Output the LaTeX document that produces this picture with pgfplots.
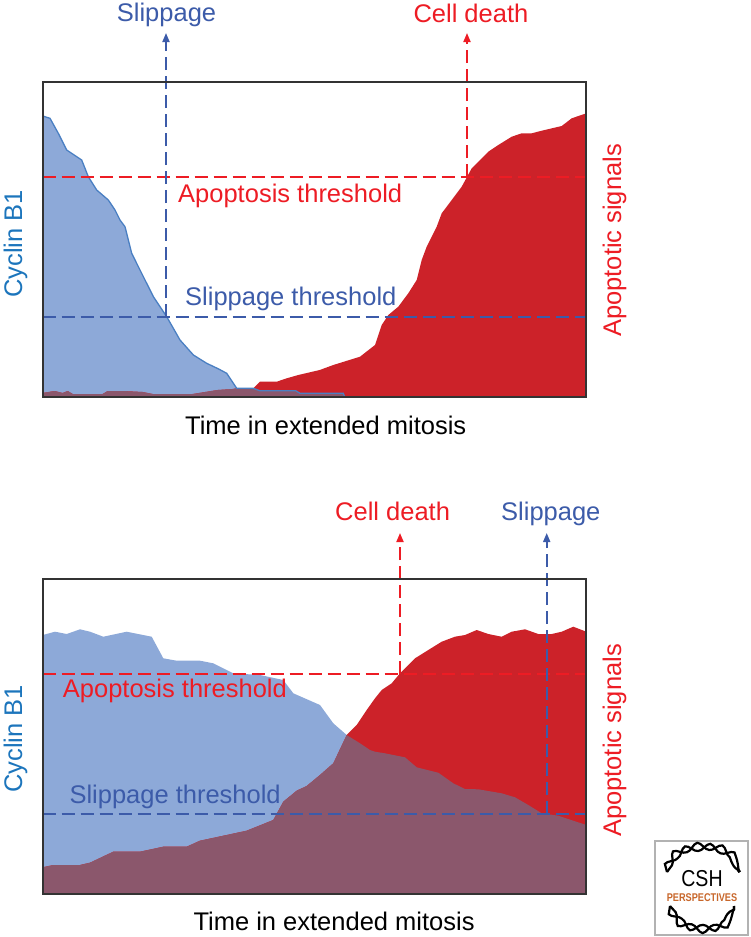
\documentclass[border=0pt]{standalone}
\usepackage{pgfplots}
\pgfplotsset{compat=1.18}
\usepackage{fontspec}
\setmainfont{Liberation Sans}
\usetikzlibrary{arrows.meta,decorations.pathmorphing}
\definecolor{bluefill}{HTML}{8DA9D8}
\definecolor{blueline}{HTML}{4A7FC2}
\definecolor{redfill}{HTML}{CC2229}
\definecolor{maroon}{HTML}{8B576C}
\definecolor{redtxt}{HTML}{ED1C24}
\definecolor{bluetxt}{HTML}{3C5BA9}
\definecolor{cyclinblue}{HTML}{1C75BC}
\definecolor{framegray}{HTML}{333333}
\definecolor{cshorange}{HTML}{C8662A}

% Top panel
\pgfplotstableread{
x y
0 281
7.3 278.7
15.6 263.7
24 247
39 237
45.6 220.3
54 207
65.6 197
72.3 187
77.3 177
82.3 170.3
89 143.7
97.3 127
110.7 100.3
124 80.3
137.3 57
150.7 42
164 33.7
176 28
184 23.7
194 8.7
210.6 8.7
217 6.3
253 6.3
257.3 3.7
300.6 3.7
302 0
}\topblue
\pgfplotstableread{
x y
0 4
12 6
20 4
25 6
30 3
45 3
60 3
65 6
80 6
100 5
110 3
150 3
175 7
190 8
194 8.7
207 8.7
211 9
217.3 15.3
234 15.3
244 18.7
255.6 22
277 27
290.6 32
317.3 40.3
332.3 52
339 72
345.6 82
355.6 90.3
365.6 103.7
374 117
379 137
384 150.3
394 170.3
399 183.7
409 197
419 210.3
429 228.7
445.6 245.3
455.6 252
469 260.3
479 263.7
489 263.7
499 266.3
519 271
529 278.7
543.6 283.7
}\topred
\pgfplotstableread{
x y
0 4
12 6
20 4
25 6
30 3
45 3
60 3
65 6
80 6
100 5
110 3
150 3
175 7
190 8
194 8.7
210.6 8.7
217 6.3
253 6.3
257.3 3.7
300.6 3.7
302 0
543.6 0
}\topmaroon

% Bottom panel
\pgfplotstableread{
x y
0 259
12.3 262.3
24 260
37.3 264.7
47.3 262.3
60.6 257.3
84 262.3
109 257.3
120.6 235.7
134 233.3
157.3 233.3
170.6 230.7
190.6 220.7
217.3 219
240.6 214
250.6 200.7
277.3 189
290.6 170.7
304 159
317.3 150.7
327.3 144
332.3 142.3
342.3 140.7
362.3 136.7
374 126.7
395.6 121.3
410.6 110.7
422.3 105
435.6 104.7
459 100.7
472.3 96.7
485.6 89
499 80.7
515.6 78.3
543.6 69
}\botblue
\pgfplotstableread{
x y
0 26.7
10.6 29
37.3 29
47.3 31.3
70.6 42.3
97.3 42.3
120.6 47.3
144 47.3
157.3 53.3
184 59
204 63.3
230.6 74
240.6 92.3
254 103.3
264 108
277.3 119
290.6 130.7
304 159
314 169
324 184
332.3 195.7
339 204
349 210.7
357.3 220.7
372.3 235.7
385.6 244
399 252.3
412.3 257.3
422.3 259
434 264
445.6 260
459 257.3
469 262.3
482.3 264.7
495.6 260
509 260
519 262.3
530.6 267.3
543.6 262.3
}\botred
\pgfplotstableread{
x y
0 26.7
10.6 29
37.3 29
47.3 31.3
70.6 42.3
97.3 42.3
120.6 47.3
144 47.3
157.3 53.3
184 59
204 63.3
230.6 74
240.6 92.3
254 103.3
264 108
277.3 119
290.6 130.7
304 159
317.3 150.7
327.3 144
332.3 142.3
342.3 140.7
362.3 136.7
374 126.7
395.6 121.3
410.6 110.7
422.3 105
435.6 104.7
459 100.7
472.3 96.7
485.6 89
499 80.7
515.6 78.3
543.6 69
}\botmaroon

\begin{document}
\begin{tikzpicture}[x=1pt,y=1pt,
  lbl/.style={font=\fontsize{25.5}{30}\selectfont, inner sep=0pt},
  dsh/.style={line width=1.8pt, dash pattern=on 13pt off 6pt},
  arr/.style={dsh, -{Triangle[length=9pt,width=7pt]}},
  helix/.style={line width=2.2pt, decorate, decoration={snake, amplitude=3.6pt, segment length=24pt}}]
\useasboundingbox (0,0) rectangle (751,-937);
\pgfplotsset{panel/.style={
  anchor=south west, scale only axis, width=543.6pt, height=315pt,
  xmin=0, xmax=543.6, ymin=0, ymax=315, xtick=\empty, ytick=\empty,
  axis line style={draw=framegray, line width=1.8pt}, axis on top, clip=false}}

\begin{axis}[panel, at={(42.7pt,-397pt)}]
\addplot[fill=bluefill, draw=none] table[x=x,y=y] {\topblue} \closedcycle;
\addplot[fill=redfill, draw=none] table[x=x,y=y] {\topred} \closedcycle;
\addplot[fill=maroon, draw=none] table[x=x,y=y] {\topmaroon} \closedcycle;
\addplot[blueline, line width=1.3pt, no marks] table[x=x,y=y] {\topblue};
\addplot[redtxt, dsh, no marks] coordinates {(0,220) (543.6,220)};
\addplot[bluetxt, dsh, no marks] coordinates {(0,80) (543.6,80)};
\addplot[bluetxt, arr, no marks] coordinates {(123.3,80) (123.3,364)};
\addplot[redtxt, arr, no marks] coordinates {(424.3,220) (424.3,364)};
\end{axis}

\begin{axis}[panel, at={(42.7pt,-894pt)}]
\addplot[fill=bluefill, draw=none] table[x=x,y=y] {\botblue} \closedcycle;
\addplot[fill=redfill, draw=none] table[x=x,y=y] {\botred} \closedcycle;
\addplot[fill=maroon, draw=none] table[x=x,y=y] {\botmaroon} \closedcycle;
\addplot[redtxt, dsh, no marks] coordinates {(0,220) (543.6,220)};
\addplot[bluetxt, dsh, no marks] coordinates {(0,80) (543.6,80)};
\addplot[redtxt, arr, no marks] coordinates {(357.3,220) (357.3,361)};
\addplot[bluetxt, arr, no marks] coordinates {(504,80) (504,361)};
\end{axis}

% Top panel texts
\node[lbl, anchor=base west, text=bluetxt] at (116.7,-21.7) {Slippage};
\node[lbl, anchor=base west, text=redtxt] at (413.3,-22.7) {Cell death};
\node[lbl, anchor=base west, text=redtxt] at (178,-202.3) {Apoptosis threshold};
\node[lbl, anchor=base west, text=bluetxt] at (185,-305) {Slippage threshold};
\node[lbl, anchor=base west, rotate=90, text=cyclinblue] at (22,-298) {Cyclin B1};
\node[lbl, anchor=base west, rotate=90, text=redtxt] at (621,-337) {Apoptotic signals};
\node[lbl, anchor=base west, text=black] at (185,-434.3) {Time in extended mitosis};

% Bottom panel texts
\node[lbl, anchor=base west, text=redtxt] at (335,-520) {Cell death};
\node[lbl, anchor=base west, text=bluetxt] at (501,-520) {Slippage};
\node[lbl, anchor=base west, text=redtxt] at (62.7,-697.3) {Apoptosis threshold};
\node[lbl, anchor=base west, text=bluetxt] at (69.3,-803.3) {Slippage threshold};
\node[lbl, anchor=base west, rotate=90, text=cyclinblue] at (22,-793) {Cyclin B1};
\node[lbl, anchor=base west, rotate=90, text=redtxt] at (621,-837) {Apoptotic signals};
\node[lbl, anchor=base west, text=black] at (193.3,-930) {Time in extended mitosis};

% Logo
\fill[white] (655,-841) rectangle (748,-935);
\draw[gray!60, line width=1.5pt] (655,-841) rectangle (748,-935);
\node[inner sep=0pt, xscale=0.85, font=\fontsize{23}{26}\selectfont] at (702,-879) {CSH};
\node[inner sep=0pt, xscale=0.82, font=\bfseries\fontsize{11.2}{12}\selectfont, text=cshorange] at (702,-897.5) {PERSPECTIVES};
\draw[helix] (667,-872) .. controls (672,-846) and (732,-846) .. (738,-872);
\draw[helix, decoration={mirror}] (667,-872) .. controls (672,-846) and (732,-846) .. (738,-872);
\draw[helix] (670,-906) .. controls (677,-929) and (727,-929) .. (734,-906);
\draw[helix, decoration={mirror}] (670,-906) .. controls (677,-929) and (727,-929) .. (734,-906);
\end{tikzpicture}
\end{document}
